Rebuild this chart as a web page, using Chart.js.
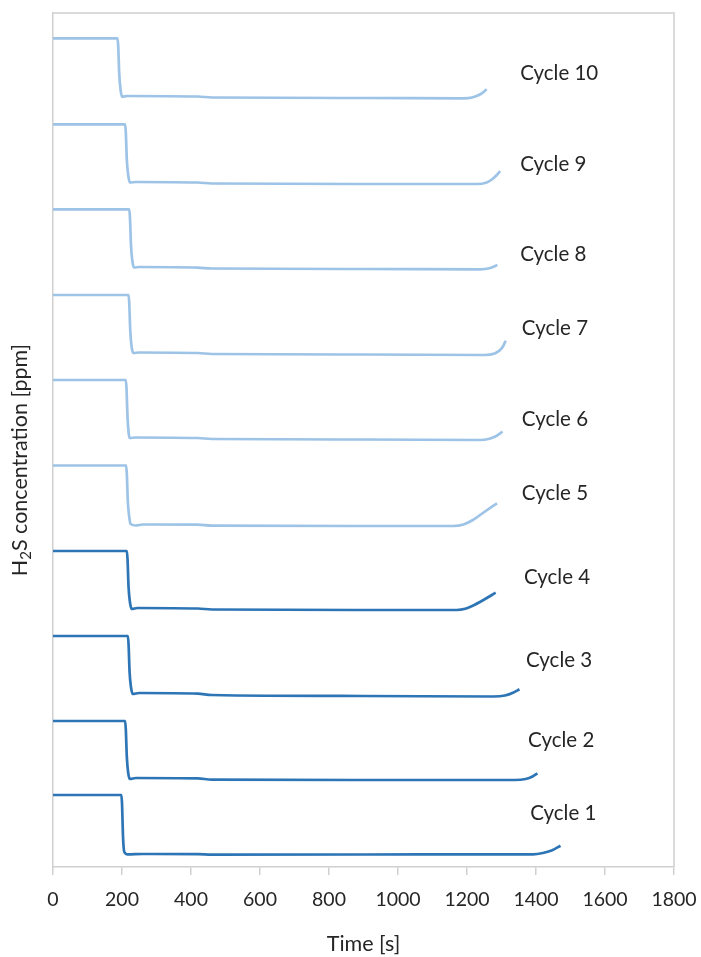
<!DOCTYPE html>
<html>
<head>
<meta charset="utf-8">
<script src="https://cdn.jsdelivr.net/npm/chart.js@4"></script>
<style>
  body { margin: 0; background: #fff; }
  canvas { display: block; }
</style>
</head>
<body>
<canvas id="chart" width="701" height="957"></canvas>
<script>
// time [s] and offset concentration for each cycle
const c1T = [0, 198, 200, 203, 206, 210, 216, 260, 420, 460, 900, 1300, 1391, 1420, 1445, 1471];
const c1V = [72, 72, 64, 30, 16, 13.5, 12.6, 13, 12.8, 12.4, 12.5, 12.7, 12.7, 14, 16.5, 21.3];
const c2T = [0, 209, 211, 214, 218, 223, 240, 420, 460, 900, 1339, 1370, 1390, 1404];
const c2V = [146, 146, 138, 110, 94, 88, 89, 88.6, 87.4, 87, 87, 88, 90.5, 93.7];
const c3T = [0, 217, 219, 222, 226, 231, 250, 420, 460, 900, 1276, 1310, 1335, 1352];
const c3V = [231, 231, 223, 195, 180, 173, 174, 173.4, 172, 171, 170.5, 171.5, 174.5, 177.7];
const c4T = [0, 214, 216, 219, 223, 228, 245, 420, 460, 900, 1170, 1195, 1215, 1250, 1283];
const c4V = [316, 316, 308, 280, 265, 258, 259, 258.5, 257.5, 257, 257, 258.2, 261, 267.5, 274.3];
const c5T = [0, 212, 214, 217, 221, 225, 240, 260, 420, 460, 900, 1160, 1190, 1217, 1250, 1287];
const c5V = [401.5, 401.5, 393, 365, 350, 343, 341.5, 342.5, 342.3, 341.3, 341, 341, 342.5, 347, 355, 363.7];
const c6T = [0, 211, 213, 216, 219, 222, 240, 420, 460, 900, 1238, 1265, 1285, 1303];
const c6V = [487, 487, 479, 450, 435, 429, 429.5, 429, 428, 427.5, 427, 428.3, 431, 435.3];
const c7T = [0, 219, 221, 224, 228, 233, 250, 420, 460, 900, 1250, 1280, 1296, 1305, 1312];
const c7V = [572, 572, 564, 536, 520, 514, 514.5, 514, 513, 512.5, 512, 513.5, 517, 521, 526.3];
const c8T = [0, 221, 223, 226, 230, 235, 250, 420, 460, 900, 1238, 1265, 1288];
const c8V = [657.7, 657.7, 650, 622, 606, 599.5, 600, 599.4, 598.5, 598, 597.7, 598.8, 602];
const c9T = [0, 209, 211, 214, 218, 223, 240, 420, 460, 900, 1230, 1255, 1270, 1285, 1296];
const c9V = [742.7, 742.7, 735, 707, 692, 684.5, 685, 684.5, 683.5, 683, 683, 684.3, 687, 691.5, 696];
const c10T = [0, 187, 189, 192, 196, 200, 215, 420, 460, 900, 1188, 1215, 1240, 1257];
const c10V = [828.7, 828.7, 821, 793, 777, 770.3, 771, 770.5, 769.5, 769, 768.7, 769.5, 773, 777.7];

const cycleNames = ['Cycle 1', 'Cycle 2', 'Cycle 3', 'Cycle 4', 'Cycle 5',
                    'Cycle 6', 'Cycle 7', 'Cycle 8', 'Cycle 9', 'Cycle 10'];
// where the "Cycle n" text sits, in data units
const labelT = [1383, 1377, 1371, 1365, 1359, 1359, 1359, 1354, 1354, 1354];
const labelV = [54, 127, 207, 290, 374, 448, 539, 613, 703, 794];

const xTicks = [0, 200, 400, 600, 800, 1000, 1200, 1400, 1600, 1800];

const allT = [c1T, c2T, c3T, c4T, c5T, c6T, c7T, c8T, c9T, c10T];
const allV = [c1V, c2V, c3V, c4V, c5V, c6V, c7V, c8V, c9V, c10V];

const darkBlue = '#2e75b6';
const lightBlue = '#9dc3e6';
const axisGrey = '#d0d0d0';
const textCol = '#262626';
const FONT = 'Lato, "Open Sans", sans-serif';

const datasets = allT.map((ts, i) => ({
  label: cycleNames[i],
  data: ts.map((t, j) => ({ x: t, y: allV[i][j] })),
  borderColor: i < 4 ? darkBlue : lightBlue,
  borderWidth: 2.7,
  pointRadius: 0,
  cubicInterpolationMode: 'monotone',
  fill: false
}));

// frame, cycle labels and y-axis title with subscript
const extras = {
  id: 'extras',
  afterDraw(chart) {
    const ctx = chart.ctx;
    const a = chart.chartArea;
    const xs = chart.scales.x, ys = chart.scales.y;
    ctx.save();
    ctx.strokeStyle = axisGrey;
    ctx.lineWidth = 1.5;
    ctx.beginPath();
    ctx.moveTo(a.left, a.top);
    ctx.lineTo(a.right, a.top);
    ctx.lineTo(a.right, a.bottom);
    ctx.stroke();

    ctx.fillStyle = textCol;
    ctx.font = '20.5px ' + FONT;
    ctx.textBaseline = 'middle';
    ctx.textAlign = 'left';
    cycleNames.forEach((name, i) => {
      ctx.fillText(name, xs.getPixelForValue(labelT[i]), ys.getPixelForValue(labelV[i]));
    });

    // rotated y title: H2S concentration [ppm]
    ctx.translate(20, 460);
    ctx.rotate(-Math.PI / 2);
    const big = '21.5px ' + FONT, small = '15px ' + FONT;
    ctx.font = big;
    const w1 = ctx.measureText('H').width;
    const w3 = ctx.measureText('S concentration [ppm]').width;
    ctx.font = small;
    const w2 = ctx.measureText('2').width;
    let x = -(w1 + w2 + w3) / 2;
    ctx.font = big;
    ctx.fillText('H', x, 0);
    x += w1;
    ctx.font = small;
    ctx.fillText('2', x, 6);
    x += w2;
    ctx.font = big;
    ctx.fillText('S concentration [ppm]', x, 0);
    ctx.restore();
  }
};

new Chart(document.getElementById('chart'), {
  type: 'line',
  data: { datasets },
  options: {
    responsive: false,
    animation: false,
    layout: { padding: { left: 0, top: 13, right: 27, bottom: 0 } },
    plugins: { legend: { display: false }, tooltip: { enabled: false } },
    scales: {
      x: {
        type: 'linear',
        min: 0,
        max: 1800,
        afterBuildTicks(scale) { scale.ticks = xTicks.map(v => ({ value: v })); },
        afterFit(scale) {
          scale.height = 90;
          scale.paddingLeft = 0;
          scale.paddingRight = 0;
        },
        grid: { display: true, drawOnChartArea: false, tickLength: 8, color: axisGrey, lineWidth: 1.5 },
        border: { display: true, color: axisGrey, width: 1.5 },
        ticks: {
          font: { family: FONT, size: 19.5 },
          color: textCol,
          padding: 13,
          maxRotation: 0,
          callback: v => String(v)
        },
        title: { display: true, text: 'Time [s]', font: { family: FONT, size: 21.5 }, color: textCol, padding: { top: 16, bottom: 0 } }
      },
      y: {
        min: 0,
        max: 854,
        afterFit(scale) { scale.width = 53; },
        grid: { display: false },
        border: { display: true, color: axisGrey, width: 1.5 },
        ticks: { display: false }
      }
    }
  },
  plugins: [extras]
});
</script>
</body>
</html>
